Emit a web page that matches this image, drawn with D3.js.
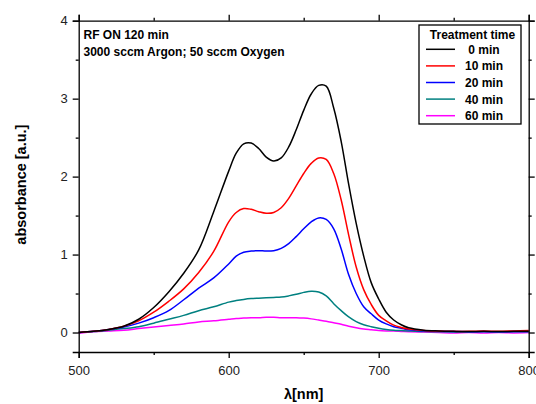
<!DOCTYPE html>
<html>
<head>
<meta charset="utf-8">
<script src="https://cdn.jsdelivr.net/npm/d3@7"></script>
<style>
  body { margin: 0; background: #fff; }
  svg { display: block; font-family: Arial, "Liberation Sans", sans-serif; }
</style>
</head>
<body>
<div id="chart"></div>
<script>
// wavelength grid [nm]
var wavelengths = [500, 510, 520, 530, 540, 550, 560, 570, 580, 590, 600,
  605, 610, 615, 620, 625, 630, 635, 640, 645, 650, 655, 660, 665, 670, 675,
  680, 685, 690, 695, 700, 705, 710, 715,
  720, 730, 740, 750, 760, 770, 780, 790, 800];

var abs0 = [0.00, 0.015, 0.04, 0.08, 0.17, 0.32, 0.52, 0.76, 1.06, 1.55, 2.07,
  2.30, 2.42, 2.43, 2.36, 2.25, 2.20, 2.24, 2.38, 2.60, 2.85, 3.06, 3.17, 3.16, 2.88, 2.45,
  1.90, 1.40, 0.98, 0.64, 0.43, 0.26, 0.16, 0.10,
  0.06, 0.03, 0.02, 0.015, 0.012, 0.015, 0.012, 0.015, 0.015];
var abs10 = [0.00, 0.015, 0.04, 0.08, 0.15, 0.26, 0.40, 0.56, 0.77, 1.04, 1.42,
  1.54, 1.59, 1.58, 1.55, 1.53, 1.54, 1.60, 1.72, 1.88, 2.04, 2.17, 2.24, 2.22, 2.04, 1.70,
  1.25, 0.84, 0.55, 0.36, 0.22, 0.15, 0.095, 0.065,
  0.045, 0.025, 0.018, 0.015, 0.015, 0.02, 0.015, 0.02, 0.025];
var abs20 = [0.00, 0.015, 0.04, 0.07, 0.12, 0.19, 0.28, 0.42, 0.57, 0.70, 0.88,
  0.98, 1.03, 1.045, 1.05, 1.045, 1.05, 1.08, 1.14, 1.23, 1.33, 1.42, 1.47, 1.45, 1.33, 1.07,
  0.74, 0.50, 0.33, 0.24, 0.16, 0.11, 0.075, 0.055,
  0.035, 0.02, 0.015, 0.012, 0.01, 0.012, 0.01, 0.012, 0.012];
var abs40 = [0.00, 0.012, 0.03, 0.05, 0.075, 0.12, 0.17, 0.22, 0.28, 0.33, 0.39,
  0.41, 0.425, 0.435, 0.44, 0.445, 0.45, 0.455, 0.47, 0.49, 0.515, 0.53, 0.52, 0.47, 0.37, 0.28,
  0.20, 0.14, 0.10, 0.075, 0.055, 0.04, 0.03, 0.025,
  0.02, 0.012, 0.01, 0.008, 0.008, 0.01, 0.008, 0.01, 0.01];
var abs60 = [-0.01, 0.01, 0.02, 0.03, 0.05, 0.07, 0.09, 0.11, 0.135, 0.15, 0.17,
  0.18, 0.185, 0.19, 0.19, 0.195, 0.195, 0.19, 0.19, 0.19, 0.185, 0.175, 0.16, 0.145, 0.125, 0.105,
  0.08, 0.06, 0.045, 0.035, 0.025, 0.02, 0.018, 0.014,
  0.01, 0.005, 0.0, -0.005, 0.0, -0.005, 0.0, -0.005, 0.0];

var seriesNames = ["0 min", "10 min", "20 min", "40 min", "60 min"];
var seriesColors = ["#000000", "#ff0000", "#0000ff", "#008080", "#ff00ff"];
var seriesValues = [abs0, abs10, abs20, abs40, abs60];

var xMajor = [500, 600, 700, 800];
var xMinor = [550, 650, 750];
var yMajor = [0, 1, 2, 3, 4];
var yMinor = [0.5, 1.5, 2.5, 3.5];

var W = 536, H = 404;
var m = { left: 78.7, right: 7.3, top: 20.7, bottom: 52 };

var svg = d3.select("#chart").append("svg")
  .attr("width", W)
  .attr("height", H);

var x = d3.scaleLinear().domain([500, 800]).range([m.left, W - m.right]);
var y = d3.scaleLinear().domain([-0.25, 4]).range([H - m.bottom, m.top]);

// curves first, frame on top
var line = d3.line()
  .x(function(d) { return x(d[0]); })
  .y(function(d) { return y(d[1]); })
  .curve(d3.curveCatmullRom.alpha(0.5));

seriesValues.slice().reverse().forEach(function(vals, i) {
  var k = seriesValues.length - 1 - i;
  var pts = wavelengths.map(function(w, j) { return [w, vals[j]]; });
  svg.append("path")
    .attr("d", line(pts))
    .attr("fill", "none")
    .attr("stroke", seriesColors[k])
    .attr("stroke-width", 1.5);
});

// axes: majors + minors, all ticks outward
function drawAxis(axisFn, scale, major, minor, transform, labels) {
  var g = svg.append("g").attr("transform", transform);
  g.call(axisFn(scale).tickValues(major).tickSize(6).tickPadding(5)
    .tickFormat(labels ? d3.format("d") : function() { return ""; }));
  g.append("g").call(axisFn(scale).tickValues(minor).tickSize(3).tickFormat(function() { return ""; }))
    .select(".domain").remove();
  g.selectAll("path, line").attr("stroke", "#000").attr("stroke-width", 1.3);
  g.selectAll("text").attr("font-size", 13).attr("fill", "#222")
    .attr("font-family", "Arial, 'Liberation Sans', sans-serif");
  return g;
}

var gB = drawAxis(d3.axisBottom, x, xMajor, xMinor, "translate(0," + (H - m.bottom) + ")", true);
gB.selectAll("text").attr("dy", "0.95em");
drawAxis(d3.axisTop, x, xMajor, xMinor, "translate(0," + m.top + ")", false);
drawAxis(d3.axisLeft, y, yMajor, yMinor, "translate(" + m.left + ",0)", true);
drawAxis(d3.axisRight, y, yMajor, yMinor, "translate(" + (W - m.right) + ",0)", false);

// axis titles
svg.append("text")
  .attr("transform", "translate(26," + (y(2.0) + 8) + ") rotate(-90)")
  .attr("text-anchor", "middle")
  .attr("font-size", 14.5).attr("font-weight", "bold")
  .text("absorbance [a.u.]");

svg.append("text")
  .attr("x", x(650)).attr("y", 399)
  .attr("text-anchor", "middle")
  .attr("font-size", 14.5).attr("font-weight", "bold")
  .text("λ[nm]");

// annotation
svg.append("text").attr("x", 83.5).attr("y", 38.5)
  .attr("font-size", 12).attr("font-weight", "bold")
  .text("RF ON 120 min");
svg.append("text").attr("x", 83.5).attr("y", 56)
  .attr("font-size", 12).attr("font-weight", "bold")
  .text("3000 sccm Argon; 50 sccm Oxygen");

// legend
var lg = svg.append("g");
lg.append("rect")
  .attr("x", 419).attr("y", 25).attr("width", 102).attr("height", 99)
  .attr("fill", "#fff").attr("stroke", "#000").attr("stroke-width", 1.3);
lg.append("text").attr("x", 472.5).attr("y", 38.5)
  .attr("text-anchor", "middle")
  .attr("font-size", 12).attr("font-weight", "bold")
  .text("Treatment time");

seriesNames.forEach(function(name, i) {
  var ly = 49.3 + i * 16.6;
  lg.append("line")
    .attr("x1", 426).attr("x2", 455)
    .attr("y1", ly).attr("y2", ly)
    .attr("stroke", seriesColors[i]).attr("stroke-width", 1.5);
  lg.append("text").attr("x", 484).attr("y", ly + 4.5)
    .attr("text-anchor", "middle")
    .attr("font-size", 12).attr("font-weight", "bold")
    .text(name);
});
</script>
</body>
</html>
